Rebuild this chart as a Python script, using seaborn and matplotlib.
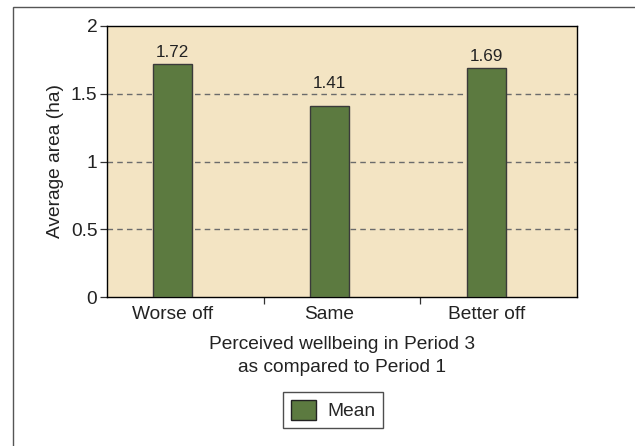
import matplotlib
matplotlib.use("Agg")
import matplotlib.pyplot as plt
import seaborn as sns
import pandas as pd
from matplotlib.patches import Rectangle, Patch
from matplotlib.ticker import FixedLocator

categories = ["Worse off", "Same", "Better off"]
means = [1.72, 1.41, 1.69]
value_labels = ["1.72", "1.41", "1.69"]
label_pads = [2.5, 11, 3]
y_ticks = [0, 0.5, 1, 1.5, 2]
y_tick_labels = ["0", "0.5", "1", "1.5", "2"]

sns.set_theme(style="white")
plt.rcParams['font.family'] = ['Liberation Sans', 'DejaVu Sans']

df = pd.DataFrame({"cat": categories, "mean": means})

fig = plt.figure(figsize=(6.35, 4.46), dpi=100)
W, H = 635, 446
ax = fig.add_axes([107 / W, 1 - 297 / H, (577 - 107) / W, (297 - 26) / H])

bar_color = "#5C7A40"
sns.barplot(data=df, x="cat", y="mean", color=bar_color, width=0.25,
            edgecolor="#3a3a3a", linewidth=1.0, saturation=1, ax=ax, zorder=3)

ax.set_facecolor("#F3E4C3")
ax.set_xlim(-0.42, 2.58)
ax.set_ylim(0, 2)
ax.set_yticks(y_ticks)
ax.set_yticklabels(y_tick_labels)
for y in [0.5, 1, 1.5]:
    ax.axhline(y, color="#6b6b6b", linestyle=(0, (4, 3)), linewidth=1.0, zorder=1)

fs = 13.8
ax.xaxis.set_minor_locator(FixedLocator([0.58, 1.58]))
ax.tick_params(axis="x", which="major", length=0, labelsize=fs, pad=6.5, colors="#222222")
ax.tick_params(axis="x", which="minor", length=5, width=0.9, color="#333333", direction="out", bottom=True)
ax.tick_params(axis="y", which="major", length=5, width=0.9, color="#333333", direction="out", left=True,
               labelsize=fs, pad=2, labelcolor="#222222")

for s in ax.spines.values():
    s.set_color("black")
    s.set_linewidth(1.0)
    s.set_visible(True)

container = ax.containers[0]
for i, (lab, pad) in enumerate(zip(value_labels, label_pads)):
    labs = [lab if j == i else "" for j in range(len(value_labels))]
    ax.bar_label(container, labels=labs, padding=pad, fontsize=12.3, color="#222222")

ax.set_xlabel("Perceived wellbeing in Period 3\nas compared to Period 1", fontsize=fs,
              color="#222222", labelpad=9, linespacing=1.5)
ax.set_ylabel("Average area (ha)", fontsize=fs, color="#222222", labelpad=5)

handles = [Patch(facecolor=bar_color, edgecolor="#222222", label="Mean")]
fig.legend(handles=handles, loc="center", bbox_to_anchor=(333 / W, 1 - 410 / H),
           frameon=True, fancybox=False, edgecolor="#222222", fontsize=fs,
           handlelength=1.3, handleheight=1.3, borderpad=0.4, handletextpad=0.6)

fig.patches.append(Rectangle((13 / W, -0.1), 1.2, 1 - 7 / H + 0.1, transform=fig.transFigure,
                             fill=False, edgecolor="#555555", linewidth=1.0))

fig.savefig("out.png", dpi=100)
